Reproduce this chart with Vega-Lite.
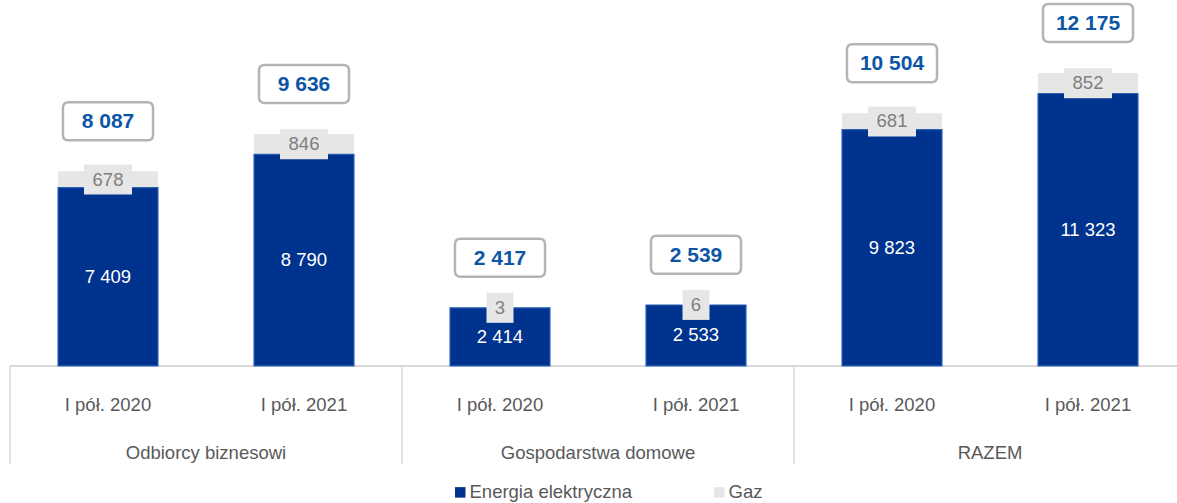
{
  "$schema": "https://vega.github.io/schema/vega-lite/v6.json",
  "width": 1167,
  "height": 467,
  "autosize": "none",
  "padding": {"left": 10, "top": 0, "right": 0, "bottom": 36},
  "background": "white",
  "config": {
    "view": {"stroke": null},
    "font": "Liberation Sans"
  },
  "datasets": {
    "slupki": [
      {"id": "OB-2020", "grupa": "Odbiorcy biznesowi", "okres": "I pół. 2020", "seria": "Energia elektryczna", "wartosc": 7409},
      {"id": "OB-2020", "grupa": "Odbiorcy biznesowi", "okres": "I pół. 2020", "seria": "Gaz", "wartosc": 678},
      {"id": "OB-2021", "grupa": "Odbiorcy biznesowi", "okres": "I pół. 2021", "seria": "Energia elektryczna", "wartosc": 8790},
      {"id": "OB-2021", "grupa": "Odbiorcy biznesowi", "okres": "I pół. 2021", "seria": "Gaz", "wartosc": 846},
      {"id": "GD-2020", "grupa": "Gospodarstwa domowe", "okres": "I pół. 2020", "seria": "Energia elektryczna", "wartosc": 2414},
      {"id": "GD-2020", "grupa": "Gospodarstwa domowe", "okres": "I pół. 2020", "seria": "Gaz", "wartosc": 3},
      {"id": "GD-2021", "grupa": "Gospodarstwa domowe", "okres": "I pół. 2021", "seria": "Energia elektryczna", "wartosc": 2533},
      {"id": "GD-2021", "grupa": "Gospodarstwa domowe", "okres": "I pół. 2021", "seria": "Gaz", "wartosc": 6},
      {"id": "RZ-2020", "grupa": "RAZEM", "okres": "I pół. 2020", "seria": "Energia elektryczna", "wartosc": 9823},
      {"id": "RZ-2020", "grupa": "RAZEM", "okres": "I pół. 2020", "seria": "Gaz", "wartosc": 681},
      {"id": "RZ-2021", "grupa": "RAZEM", "okres": "I pół. 2021", "seria": "Energia elektryczna", "wartosc": 11323},
      {"id": "RZ-2021", "grupa": "RAZEM", "okres": "I pół. 2021", "seria": "Gaz", "wartosc": 852}
    ],
    "grupy": [
      {"grupa": "Odbiorcy biznesowi", "start": "OB-2020", "srodek": "OB-2021"},
      {"grupa": "Gospodarstwa domowe", "start": "GD-2020", "srodek": "GD-2021"},
      {"grupa": "RAZEM", "start": "RZ-2020", "srodek": "RZ-2021"}
    ]
  },
  "layer": [
    {
      "data": {"name": "slupki"},
      "mark": {"type": "rule", "color": "#d9d9d9", "strokeWidth": 2},
      "encoding": {
        "y": {"datum": 0, "type": "quantitative", "scale": {"domain": [-4200, 15208], "nice": false, "zero": false}, "axis": null}
      }
    },
    {
      "data": {"name": "slupki"},
      "transform": [
        {"stack": "wartosc", "groupby": ["id"], "sort": [{"field": "seria", "order": "ascending"}], "as": ["y0", "y1"]}
      ],
      "mark": {"type": "bar", "width": {"band": 0.51}},
      "encoding": {
        "x": {"field": "id", "type": "nominal", "axis": null,
              "scale": {"domain": ["OB-2020", "OB-2021", "GD-2020", "GD-2021", "RZ-2020", "RZ-2021"], "range": [0, 1176], "paddingInner": 0, "paddingOuter": 0}},
        "y": {"field": "y0", "type": "quantitative", "axis": null},
        "y2": {"field": "y1"},
        "color": {"field": "seria", "type": "nominal",
          "scale": {"domain": ["Energia elektryczna", "Gaz"], "range": ["#00338d", "#e6e6e6"]},
          "legend": {"title": null, "orient": "none", "legendX": 441, "legendY": 483, "direction": "horizontal",
            "symbolType": "square", "symbolSize": 110, "symbolStrokeWidth": 0, "labelFontSize": 18.5, "labelColor": "#595959",
            "labelOffset": 0, "columnPadding": 78, "padding": 0, "labelLimit": 400}}
      }
    },
    {
      "data": {"name": "slupki"},
      "transform": [
        {"stack": "wartosc", "groupby": ["id"], "sort": [{"field": "seria", "order": "ascending"}], "as": ["y0", "y1"]},
        {"filter": "datum.seria == 'Energia elektryczna'"}
      ],
      "mark": {"type": "bar", "width": {"band": 0.51}, "fill": null, "fillOpacity": 0, "stroke": "#2a60b4", "strokeWidth": 1.2},
      "encoding": {
        "x": {"field": "id", "type": "nominal"},
        "y": {"field": "y0", "type": "quantitative"},
        "y2": {"field": "y1"}
      }
    },
    {
      "data": {"name": "grupy"},
      "mark": {"type": "rule", "color": "#d9d9d9", "strokeWidth": 1.5},
      "encoding": {
        "x": {"field": "start", "type": "nominal", "bandPosition": 0},
        "y": {"datum": 0, "type": "quantitative"},
        "y2": {"datum": -4100}
      }
    },
    {
      "data": {"name": "slupki"},
      "transform": [
        {"stack": "wartosc", "groupby": ["id"], "sort": [{"field": "seria", "order": "ascending"}], "as": ["y0", "y1"]},
        {"calculate": "(datum.y0 + datum.y1) / 2", "as": "ymid"},
        {"calculate": "replace(format(datum.wartosc, ',d'), ',', ' ')", "as": "etykieta"},
        {"filter": "datum.seria == 'Energia elektryczna'"}
      ],
      "mark": {"type": "text", "color": "white", "fontSize": 18.5, "baseline": "middle"},
      "encoding": {
        "x": {"field": "id", "type": "nominal"},
        "y": {"field": "ymid", "type": "quantitative"},
        "text": {"field": "etykieta", "type": "nominal"}
      }
    },
    {
      "data": {"name": "slupki"},
      "transform": [
        {"stack": "wartosc", "groupby": ["id"], "sort": [{"field": "seria", "order": "ascending"}], "as": ["y0", "y1"]},
        {"calculate": "(datum.y0 + datum.y1) / 2", "as": "ymid"},
        {"filter": "datum.seria == 'Gaz' && datum.wartosc >= 10"}
      ],
      "mark": {"type": "point", "filled": true, "color": "#e6e6e6", "opacity": 1, "size": 900, "strokeWidth": 0,
        "shape": "M-1.6,-1L1.6,-1L1.6,1L-1.6,1Z"},
      "encoding": {
        "x": {"field": "id", "type": "nominal"},
        "y": {"field": "ymid", "type": "quantitative"}
      }
    },
    {
      "data": {"name": "slupki"},
      "transform": [
        {"stack": "wartosc", "groupby": ["id"], "sort": [{"field": "seria", "order": "ascending"}], "as": ["y0", "y1"]},
        {"calculate": "(datum.y0 + datum.y1) / 2", "as": "ymid"},
        {"filter": "datum.seria == 'Gaz' && datum.wartosc < 10"}
      ],
      "mark": {"type": "point", "filled": true, "color": "#e6e6e6", "opacity": 1, "size": 900, "strokeWidth": 0,
        "shape": "M-0.9,-1L0.9,-1L0.9,1L-0.9,1Z"},
      "encoding": {
        "x": {"field": "id", "type": "nominal"},
        "y": {"field": "ymid", "type": "quantitative"}
      }
    },
    {
      "data": {"name": "slupki"},
      "transform": [
        {"stack": "wartosc", "groupby": ["id"], "sort": [{"field": "seria", "order": "ascending"}], "as": ["y0", "y1"]},
        {"calculate": "(datum.y0 + datum.y1) / 2", "as": "ymid"},
        {"filter": "datum.seria == 'Gaz'"}
      ],
      "mark": {"type": "text", "color": "#7f7f7f", "fontSize": 18.5, "baseline": "middle"},
      "encoding": {
        "x": {"field": "id", "type": "nominal"},
        "y": {"field": "ymid", "type": "quantitative"},
        "text": {"field": "wartosc", "type": "quantitative"}
      }
    },
    {
      "data": {"name": "slupki"},
      "transform": [
        {"stack": "wartosc", "groupby": ["id"], "sort": [{"field": "seria", "order": "ascending"}], "as": ["y0", "y1"]},
        {"filter": "datum.seria == 'Gaz'"}
      ],
      "mark": {"type": "point", "filled": false, "fill": "white", "fillOpacity": 1, "stroke": "#b4b4b4", "strokeWidth": 2.5, "opacity": 1, "size": 1444, "yOffset": -50,
        "shape": "M-2.07,-1L2.07,-1Q2.37,-1 2.37,-0.7L2.37,0.7Q2.37,1 2.07,1L-2.07,1Q-2.37,1 -2.37,0.7L-2.37,-0.7Q-2.37,-1 -2.07,-1Z"},
      "encoding": {
        "x": {"field": "id", "type": "nominal"},
        "y": {"field": "y1", "type": "quantitative"}
      }
    },
    {
      "data": {"name": "slupki"},
      "transform": [
        {"stack": "wartosc", "groupby": ["id"], "sort": [{"field": "seria", "order": "ascending"}], "as": ["y0", "y1"]},
        {"calculate": "replace(format(datum.y1, ',d'), ',', ' ')", "as": "suma"},
        {"filter": "datum.seria == 'Gaz'"}
      ],
      "mark": {"type": "text", "color": "#0d56a6", "fontSize": 21, "fontWeight": "bold", "baseline": "middle", "yOffset": -49},
      "encoding": {
        "x": {"field": "id", "type": "nominal"},
        "y": {"field": "y1", "type": "quantitative"},
        "text": {"field": "suma", "type": "nominal"}
      }
    },
    {
      "data": {"name": "slupki"},
      "transform": [{"filter": "datum.seria == 'Energia elektryczna'"}],
      "mark": {"type": "text", "color": "#595959", "fontSize": 18.5, "baseline": "middle"},
      "encoding": {
        "x": {"field": "id", "type": "nominal"},
        "y": {"datum": -1620, "type": "quantitative"},
        "text": {"field": "okres", "type": "nominal"}
      }
    },
    {
      "data": {"name": "grupy"},
      "mark": {"type": "text", "color": "#595959", "fontSize": 18.5, "baseline": "middle"},
      "encoding": {
        "x": {"field": "srodek", "type": "nominal", "bandPosition": 0},
        "y": {"datum": -3615, "type": "quantitative"},
        "text": {"field": "grupa", "type": "nominal"}
      }
    }
  ]
}
